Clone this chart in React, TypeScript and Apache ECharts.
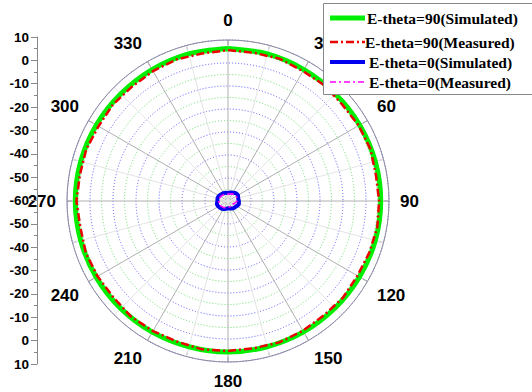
import React, { useEffect, useRef } from "react";
import * as echarts from "echarts";

const angleTicks = [0, 30, 60, 90, 120, 150, 180, 210, 240, 270, 300, 330];
const leftAxisLabels = ["10", "0", "-10", "-20", "-30", "-40", "-50", "-60", "-50", "-40", "-30", "-20", "-10", "0", "10"];

const simAngles90 = [0, 15, 30, 45, 60, 75, 90, 105, 120, 135, 150, 165, 180, 195, 210, 225, 240, 255, 270, 285, 300, 315, 330, 345, 360];
const simValues90 = [6.3, 6.2, 6.0, 5.9, 6.1, 6.3, 6.4, 6.3, 6.0, 5.8, 5.7, 5.6, 5.7, 5.6, 5.8, 6.0, 6.2, 6.3, 6.4, 6.3, 6.1, 5.9, 6.0, 6.2, 6.3];

const measAngles90 = [0, 10, 20, 30, 40, 50, 60, 70, 80, 90, 100, 110, 120, 130, 140, 150, 160, 170, 180, 190, 200, 210, 220, 230, 240, 250, 260, 270, 280, 290, 300, 310, 320, 330, 340, 350, 360];
const measValues90 = [5.6, 5.4, 5.8, 5.2, 5.5, 5.0, 5.6, 5.9, 5.3, 5.7, 5.9, 5.4, 5.0, 5.3, 4.9, 5.1, 5.4, 5.0, 5.2, 5.5, 5.0, 5.3, 5.6, 5.1, 5.5, 5.8, 5.2, 5.9, 5.4, 5.6, 5.0, 5.3, 4.9, 5.2, 5.5, 5.1, 5.6];

const simAngles0 = [0, 15, 30, 45, 60, 75, 90, 105, 120, 135, 150, 165, 180, 195, 210, 225, 240, 255, 270, 285, 300, 315, 330, 345, 360];
const simValues0 = [-56.6, -56.2, -55.8, -55.2, -55.0, -55.4, -55.3, -55.1, -55.6, -56.0, -56.2, -56.6, -56.8, -56.5, -56.0, -55.5, -55.2, -55.0, -55.4, -55.3, -55.5, -55.9, -56.0, -56.3, -56.6];

const measAngles0 = [0, 30, 60, 90, 105, 120, 135, 150, 165, 180, 210, 240, 270, 300, 330, 360];
const measValues0 = [-57.0, -56.3, -55.8, -55.9, -56.8, -57.4, -57.6, -57.5, -57.3, -57.2, -56.6, -56.0, -55.9, -56.2, -56.6, -57.0];

const seriesNames = [
  "E-theta=90(Simulated)",
  "E-theta=90(Measured)",
  "E-theta=0(Simulated)",
  "E-theta=0(Measured)",
];
const seriesColors = ["#00ee00", "#ee0000", "#0000ee", "#ff00ff"];
const seriesWidths = [5, 2.5, 4, 1.5];
const seriesDashes: (number[] | null)[] = [null, [8, 3, 2, 3], null, [6, 3, 2, 3]];

function pairs(angles: number[], values: number[]) {
  return angles.map((a, i) => [values[i], a]);
}

export default function App() {
  const ref = useRef<HTMLDivElement>(null);
  useEffect(() => {
    if (!ref.current) return;
    const chart = echarts.init(ref.current, undefined, { renderer: "svg" });
    const labelFont = { fontFamily: "Liberation Sans", fontWeight: "bold" as const, color: "#000" };

    const legendRows = [18, 42, 62, 82];
    const legendTextX = [367, 365, 369, 369];
    const legendGraphics: any[] = [
      {
        type: "rect",
        shape: { x: 323.5, y: 3.5, width: 210, height: 91 },
        style: { fill: "#fff", stroke: "#888", lineWidth: 1 },
        z: 100,
      },
    ];
    seriesNames.forEach((name, i) => {
      legendGraphics.push({
        type: "line",
        shape: { x1: 330, y1: legendRows[i], x2: 365, y2: legendRows[i] },
        style: {
          stroke: seriesColors[i],
          lineWidth: seriesWidths[i],
          lineDash: seriesDashes[i] || undefined,
        },
        z: 101,
      });
      legendGraphics.push({
        type: "text",
        x: legendTextX[i],
        y: legendRows[i],
        style: {
          text: name,
          fill: "#000",
          font: "bold 15.5px 'Liberation Serif'",
          textVerticalAlign: "middle",
          verticalAlign: "middle",
        },
        z: 101,
      });
    });

    const mk = (i: number, data: number[][], smooth: number | boolean) => ({
      name: seriesNames[i],
      type: "line",
      coordinateSystem: "polar",
      symbol: "none",
      smooth,
      lineStyle: {
        color: seriesColors[i],
        width: seriesWidths[i],
        type: seriesDashes[i] || "solid",
      },
      itemStyle: { color: seriesColors[i] },
      data,
    });

    chart.setOption({
      animation: false,
      backgroundColor: "#fff",
      grid: { left: 37, top: 37, bottom: 28, width: 1 },
      xAxis: { type: "value", show: false, min: 0, max: 1 },
      yAxis: {
        type: "value",
        min: 0,
        max: 140,
        interval: 10,
        axisLine: { show: true, lineStyle: { color: "#888", width: 1 } },
        axisTick: { show: true, length: 6, lineStyle: { color: "#888" } },
        minorTick: { show: true, splitNumber: 2, length: 3, lineStyle: { color: "#888" } },
        splitLine: { show: false },
        axisLabel: {
          ...labelFont,
          fontSize: 13.5,
          margin: 8,
          formatter: (v: number) => leftAxisLabels[14 - Math.round(v / 10)] ?? "",
        },
      },
      polar: { center: [228, 201], radius: 161 },
      angleAxis: {
        type: "value",
        min: 0,
        max: 360,
        interval: 30,
        startAngle: 90,
        clockwise: true,
        axisLine: { show: true, lineStyle: { color: "#8a8a9a", width: 1 } },
        axisTick: { show: true, inside: true, length: 5, lineStyle: { color: "#8a8a9a" } },
        minorTick: { show: true, splitNumber: 2, length: 5, lineStyle: { color: "#8a8a9a" } },
        splitLine: { show: true, lineStyle: { color: "#b0b0b0", width: 1 } },
        minorSplitLine: { show: true, lineStyle: { color: "#e4e4e4", width: 1 } },
        axisLabel: {
          ...labelFont,
          fontSize: 17,
          margin: 11,
          formatter: (v: number) => (angleTicks.includes(v) ? String(v) : ""),
        },
      },
      radiusAxis: {
        type: "value",
        min: -60,
        max: 10,
        interval: 5,
        axisLine: { show: false },
        axisTick: { show: false },
        axisLabel: { show: false },
        splitLine: {
          show: true,
          lineStyle: { color: ["#5a5aff", "#66dd66"], type: [1, 2], width: 1 },
        },
      },
      graphic: legendGraphics,
      series: [
        mk(0, pairs(simAngles90, simValues90), 0.3),
        mk(1, pairs(measAngles90, measValues90), false),
        mk(2, pairs(simAngles0, simValues0), 0.3),
        mk(3, pairs(measAngles0, measValues0), false),
      ],
    });
    return () => chart.dispose();
  }, []);
  return (
    <div
      ref={ref}
      style={{ position: "fixed", left: 0, top: 0, width: 532, height: 392, background: "#fff" }}
    />
  );
}
